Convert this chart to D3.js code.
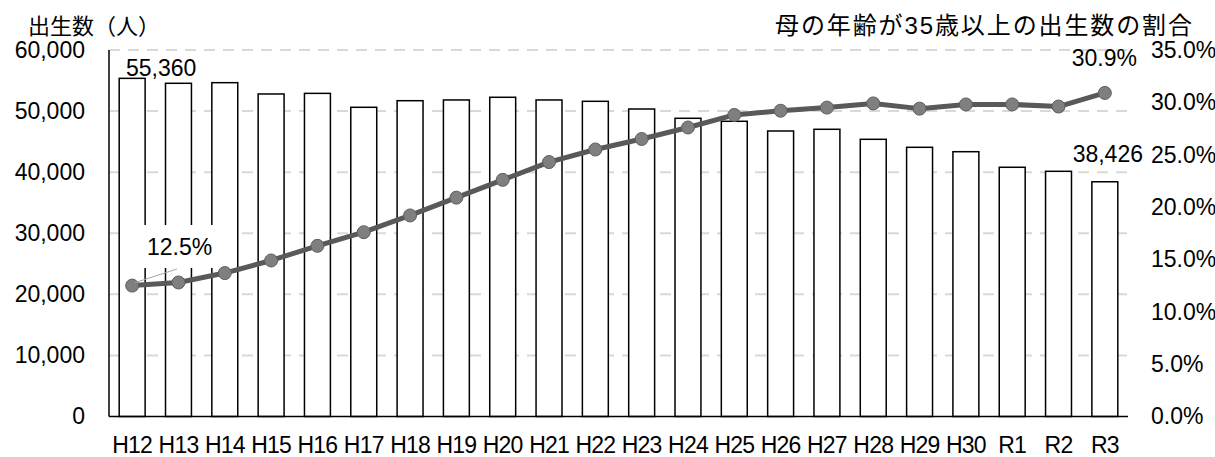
<!DOCTYPE html>
<html>
<head>
<meta charset="utf-8">
<script src="https://cdn.jsdelivr.net/npm/d3@7"></script>
<style>
  body { margin: 0; background: #fff; }
  text { font-family: "Liberation Sans", "Noto Sans CJK JP", sans-serif; fill: #000; }
</style>
</head>
<body>
<div id="canvas"></div>
<script>
// data
const years = ["H12","H13","H14","H15","H16","H17","H18","H19","H20","H21","H22",
               "H23","H24","H25","H26","H27","H28","H29","H30","R1","R2","R3"];
const births = [55360, 54550, 54650, 52800, 52900, 50620, 51700, 51820, 52260, 51820, 51600,
                50340, 48820, 48330, 46740, 47020, 45380, 44070, 43350, 40800, 40140, 38426];
const ratio35 = [12.5, 12.8, 13.7, 14.9, 16.3, 17.6, 19.2, 20.9, 22.6, 24.3, 25.5,
                 26.5, 27.6, 28.8, 29.2, 29.5, 29.9, 29.4, 29.8, 29.8, 29.6, 30.9];
const leftTicks = [0, 10000, 20000, 30000, 40000, 50000, 60000];
const rightTicks = [0, 5, 10, 15, 20, 25, 30, 35];

const width = 1215, height = 457;
const plot = { left: 109, right: 1128, top: 50, bottom: 416.5 };
const fs = 23;

const svg = d3.select("#canvas").append("svg")
            .attr("width", width)
            .attr("height", height);

const x = d3.scaleBand()
            .domain(years)
            .range([plot.left, plot.right])
            .paddingInner(0.44)
            .paddingOuter(0.22);

const yL = d3.scaleLinear().domain([0, 60000]).range([plot.bottom, plot.top]);
const yR = d3.scaleLinear().domain([0, 35]).range([plot.bottom, plot.top]);

// gridlines
svg.append("g").selectAll("line")
    .data(leftTicks.slice(1))
    .enter().append("line")
    .attr("x1", plot.left).attr("x2", plot.right)
    .attr("y1", d => yL(d)).attr("y2", d => yL(d))
    .attr("stroke", "#d9d9d9")
    .attr("stroke-width", 2)
    .attr("stroke-dasharray", "11,8");

// bars
svg.append("g").selectAll("rect")
    .data(years)
    .enter().append("rect")
    .attr("x", d => x(d))
    .attr("width", x.bandwidth())
    .attr("y", (d, i) => yL(births[i]))
    .attr("height", (d, i) => plot.bottom - yL(births[i]))
    .attr("fill", "#fff")
    .attr("stroke", "#000")
    .attr("stroke-width", 1.5);

// axes lines
svg.append("line")
    .attr("x1", plot.left).attr("x2", plot.left)
    .attr("y1", plot.top).attr("y2", plot.bottom)
    .attr("stroke", "#000").attr("stroke-width", 1.5);
svg.append("line")
    .attr("x1", plot.left).attr("x2", plot.right)
    .attr("y1", plot.bottom).attr("y2", plot.bottom)
    .attr("stroke", "#000").attr("stroke-width", 1.5);

// axes labels
const leftAxis = d3.axisLeft(yL).tickValues(leftTicks).tickSize(0).tickPadding(24)
                   .tickFormat(d3.format(","));
const rightAxis = d3.axisRight(yR).tickValues(rightTicks).tickSize(0).tickPadding(23)
                   .tickFormat(d => d.toFixed(1) + "%");
const bottomAxis = d3.axisBottom(x).tickSize(0).tickPadding(20);

const gl = svg.append("g").attr("transform", `translate(${plot.left},0)`).call(leftAxis);
const gr = svg.append("g").attr("transform", `translate(${plot.right},0)`).call(rightAxis);
const gb = svg.append("g").attr("transform", `translate(0,${plot.bottom})`).call(bottomAxis);
[gl, gr, gb].forEach(g => {
    g.select(".domain").remove();
    g.selectAll("text")
        .attr("font-size", fs)
        .attr("font-family", "'Liberation Sans', sans-serif")
        .attr("fill", "#000");
});
gb.selectAll("text").attr("letter-spacing", -0.8);

// line
const line = d3.line()
    .x((d, i) => x(years[i]) + x.bandwidth() / 2)
    .y(d => yR(d));

svg.append("path")
    .datum(ratio35)
    .attr("d", line)
    .attr("fill", "none")
    .attr("stroke", "#595959")
    .attr("stroke-width", 5)
    .attr("stroke-linejoin", "round");

svg.append("g").selectAll("circle")
    .data(ratio35)
    .enter().append("circle")
    .attr("cx", (d, i) => x(years[i]) + x.bandwidth() / 2)
    .attr("cy", d => yR(d))
    .attr("r", 6.5)
    .attr("fill", "#7f7f7f")
    .attr("stroke", "#5f5f5f")
    .attr("stroke-width", 1);

// titles
svg.append("text")
    .attr("x", 28).attr("y", 34)
    .attr("font-size", 22)
    .text("出生数（人）");
svg.append("text")
    .attr("x", 775).attr("y", 34)
    .attr("font-size", 24)
    .attr("textLength", 417)
    .attr("lengthAdjust", "spacing")
    .text("母の年齢が35歳以上の出生数の割合");

// data labels
const first = 0, last = years.length - 1;
const cx0 = x(years[first]) + x.bandwidth() / 2;

svg.append("rect")
    .attr("x", 140).attr("y", 225)
    .attr("width", 75).attr("height", 43)
    .attr("fill", "#fff");
svg.append("line")
    .attr("x1", cx0 + 3).attr("y1", yR(ratio35[first]) - 3)
    .attr("x2", 177).attr("y2", 269)
    .attr("stroke", "#a6a6a6").attr("stroke-width", 1);
svg.append("text")
    .attr("x", 147).attr("y", 255)
    .attr("font-size", fs)
    .text(ratio35[first].toFixed(1) + "%");

svg.append("text")
    .attr("x", 126).attr("y", 76)
    .attr("font-size", fs)
    .text(d3.format(",")(births[first]));

svg.append("text")
    .attr("x", 1137).attr("y", 66)
    .attr("text-anchor", "end")
    .attr("font-size", fs)
    .text(ratio35[last].toFixed(1) + "%");

svg.append("text")
    .attr("x", 1143).attr("y", 162)
    .attr("text-anchor", "end")
    .attr("font-size", fs)
    .text(d3.format(",")(births[last]));
</script>
</body>
</html>
